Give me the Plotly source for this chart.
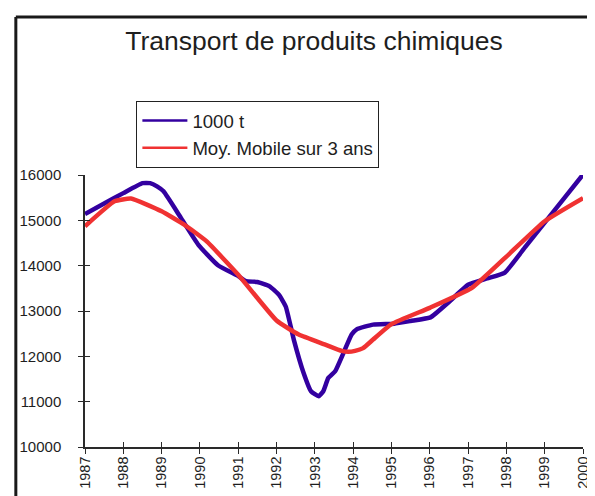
import plotly.graph_objects as go

title_text = "Transport de produits chimiques"
series_names = ["1000 t", "Moy. Mobile sur 3 ans"]

# raw series (1000 t)
blue_x = [1987, 1987.5, 1988, 1988.5, 1988.7, 1988.88, 1989.05, 1989.5, 1989.96, 1990.47,
          1991.0, 1991.2, 1991.5, 1991.81, 1992.06, 1992.24, 1992.45, 1992.7, 1992.9,
          1993.1, 1993.22, 1993.35, 1993.53, 1993.75, 1993.96, 1994.1, 1994.52, 1995.07,
          1995.5, 1996.02, 1996.5, 1997.0, 1997.5, 1997.95, 1998.5, 1999.0, 1999.5, 2000]
blue_y = [15140, 15370, 15600, 15820, 15820, 15750, 15640, 15060, 14460, 14010,
          13770, 13660, 13640, 13550, 13360, 13100, 12370, 11650, 11230,
          11120, 11230, 11520, 11670, 12080, 12480, 12600, 12700, 12720,
          12780, 12860, 13200, 13580, 13720, 13840, 14420, 14950, 15480, 16010]

# 3-year moving average
red_x = [1987, 1987.77, 1988.2, 1989.0, 1989.6, 1990.17, 1991.0, 1992.0, 1992.58,
         1993.27, 1993.7, 1993.87, 1994.05, 1994.26, 1994.52, 1995.0, 1996.0, 1997.1,
         1998.0, 1999.0, 2000]
red_y = [14870, 15420, 15480, 15200, 14900, 14540, 13800, 12790, 12480,
         12260, 12120, 12100, 12120, 12180, 12370, 12710, 13070, 13510,
         14200, 14980, 15490]

years = list(range(1987, 2001))
y_ticks = [10000, 11000, 12000, 13000, 14000, 15000, 16000]

FONT = "Liberation Sans, Arial, sans-serif"
TXT = "#1e1e1e"
AX = "#2a2a2a"
BLUE = "#3300A0"
RED = "#F03232"

fig = go.Figure()
fig.add_trace(go.Scatter(x=blue_x, y=blue_y, mode="lines", name=series_names[0],
                         showlegend=False,
                         line=dict(color=BLUE, width=4.5, shape="spline", smoothing=0.4)))
fig.add_trace(go.Scatter(x=red_x, y=red_y, mode="lines", name=series_names[1],
                         showlegend=False,
                         line=dict(color=RED, width=4.5, shape="spline", smoothing=0.4)))
# legend entries with thinner sample lines
fig.add_trace(go.Scatter(x=[None], y=[None], mode="lines", name=series_names[0],
                         line=dict(color=BLUE, width=2.5)))
fig.add_trace(go.Scatter(x=[None], y=[None], mode="lines", name=series_names[1],
                         line=dict(color=RED, width=2.5)))
# helper trace for overlay axes (inside tick marks)
fig.add_trace(go.Scatter(x=[years[0]], y=[y_ticks[0]], xaxis="x2", yaxis="y2",
                         mode="markers", marker=dict(opacity=0), showlegend=False,
                         hoverinfo="skip"))

fig.update_layout(
    width=595, height=496,
    margin=dict(l=77, r=14, t=167, b=57),
    paper_bgcolor="white", plot_bgcolor="white",
    font=dict(family=FONT, color=TXT, size=14),
    title=dict(text=title_text, x=306/595, xanchor="center", xref="container",
               y=1 - 33/496, yanchor="middle", yref="container",
               font=dict(size=26.5, family=FONT, color=TXT)),
    showlegend=True,
    legend=dict(x=(129-77)/504, y=(439-93)/272, xanchor="left", yanchor="top",
                bgcolor="white", bordercolor="#222222", borderwidth=1,
                font=dict(size=18.6, family=FONT, color=TXT),
                itemwidth=45, tracegroupgap=0),
    xaxis=dict(range=[1987, 2000], tickvals=years, ticktext=[str(y) for y in years],
               tickangle=-90, ticks="outside", ticklen=5, tickwidth=1.2, tickcolor=AX,
               showline=True, linecolor=AX, linewidth=1.5, showgrid=False, zeroline=False,
               tickfont=dict(size=14.5), ticklabelstandoff=-3),
    yaxis=dict(range=[10000, 16000], tickvals=y_ticks, ticktext=[str(v) for v in y_ticks],
               ticks="outside", ticklen=5,
               tickwidth=1.2, tickcolor=AX, showline=True, linecolor=AX, linewidth=1.5,
               showgrid=False, zeroline=False, tickfont=dict(size=15),
               ticklabelstandoff=14),
    xaxis2=dict(range=[1987, 2000], tickvals=years, overlaying="x", anchor="y2",
                side="bottom", ticks="inside", ticklen=5, tickwidth=1.2, tickcolor=AX,
                showticklabels=False, showgrid=False, zeroline=False, showline=False),
    yaxis2=dict(range=[10000, 16000], tickvals=y_ticks, overlaying="y", anchor="x2",
                side="left", ticks="inside", ticklen=5, tickwidth=1.2, tickcolor=AX,
                showticklabels=False, showgrid=False, zeroline=False, showline=False),
    shapes=[
        dict(type="line", xref="paper", yref="paper",
             x0=(7-77)/504, x1=(600-77)/504, y0=(439-9)/272, y1=(439-9)/272,
             line=dict(color="#1a1a1a", width=3)),
        dict(type="line", xref="paper", yref="paper",
             x0=(7-77)/504, x1=(7-77)/504, y0=(439-9)/272, y1=(439-500)/272,
             line=dict(color="#1a1a1a", width=3)),
    ],
)

fig.write_html("out.html")
